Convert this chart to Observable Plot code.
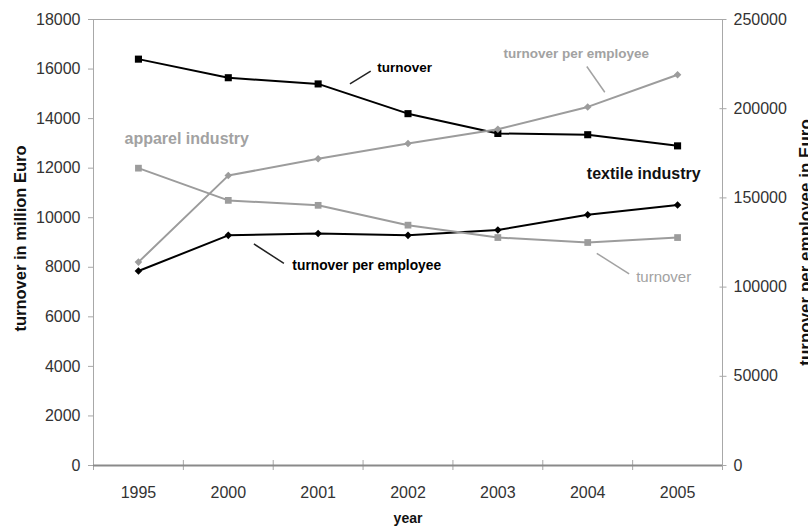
<!DOCTYPE html>
<html>
<head>
<meta charset="utf-8">
<script src="https://cdn.jsdelivr.net/npm/d3@7"></script>
<script src="https://cdn.jsdelivr.net/npm/@observablehq/plot@0.6"></script>
<style>
  body { margin: 0; background: #fff; }
  #chart { width: 808px; height: 526px; overflow: hidden; }
</style>
</head>
<body>
<div id="chart"></div>
<script>
// Years shown on the category axis
const years = ["1995", "2000", "2001", "2002", "2003", "2004", "2005"];

// Turnover in million Euro (left axis)
const textileTurnover = [16400, 15650, 15400, 14200, 13400, 13350, 12900];
const apparelTurnover = [12000, 10700, 10500, 9700, 9200, 9000, 9200];

// Turnover per employee in Euro (right axis)
const textilePerEmployee = [109000, 129000, 130000, 129000, 132000, 140500, 146000];
const apparelPerEmployee = [114000, 162500, 172000, 180500, 188500, 201000, 219000];

// Axis ticks
const leftTicks = [0, 2000, 4000, 6000, 8000, 10000, 12000, 14000, 16000, 18000];
const rightTicks = [0, 50000, 100000, 150000, 200000, 250000];

const leftMax = 18000;
const rightMax = 250000;
const k = leftMax / rightMax; // right-axis values expressed in left-axis units

const BLACK = "#000";
const GREY = "#9c9c9c";
const AXIS = "#a8a8a8";
const TEXT = "#333";

const rows = (values, scale) => values.map((v, i) => ({i, year: years[i], value: v, y: v * scale}));

const tTurn = rows(textileTurnover, 1);
const aTurn = rows(apparelTurnover, 1);
const tEmp = rows(textilePerEmployee, k);
const aEmp = rows(apparelPerEmployee, k);

const note = (label, x, y, opts) =>
  Plot.text([label], {x: () => x, y: () => y, text: d => d, textAnchor: "start", lineAnchor: "bottom", fontWeight: "bold", ...opts});
const leader = (x1, y1, x2, y2, stroke) =>
  Plot.link([0], {x1: () => x1, y1: () => y1, x2: () => x2, y2: () => y2, stroke, strokeWidth: 1.5});

const chart = Plot.plot({
  width: 808,
  height: 526,
  marginLeft: 93,
  marginRight: 86,
  marginTop: 19,
  marginBottom: 61,
  style: {fontFamily: "'Liberation Sans', Arial, sans-serif", background: "#fff"},
  x: {type: "linear", domain: [-0.5, years.length - 0.5]},
  y: {domain: [0, leftMax]},
  marks: [
    Plot.frame({stroke: AXIS}),

    // left axis
    Plot.axisY(leftTicks, {anchor: "left", tickSize: 5, fill: "none", stroke: AXIS, label: null}),
    Plot.axisY(leftTicks, {anchor: "left", tickSize: 0, tickPadding: 13, fill: TEXT, fontSize: 16,
      tickFormat: d => String(d), label: null}),

    // right axis (per-employee scale)
    Plot.axisY(rightTicks.map(v => v * k), {anchor: "right", tickSize: 7, dx: -3.5, fill: "none", stroke: AXIS, label: null}),
    Plot.axisY(rightTicks.map(v => v * k), {anchor: "right", tickSize: 0, tickPadding: 11, fill: TEXT, fontSize: 16,
      tickFormat: d => String(Math.round(d / k)), label: null}),

    // category axis: boundary ticks and year labels
    Plot.axisX(d3.range(years.length + 1).map(i => i - 0.5), {tickSize: 10, dy: -5, fill: "none", stroke: AXIS, label: null}),
    Plot.axisX(d3.range(years.length), {tickSize: 0, tickPadding: 21, fill: TEXT, fontSize: 16,
      tickFormat: i => years[i], label: null}),
    Plot.ruleY([0], {stroke: "#8a8a8a", strokeWidth: 2}),

    // axis titles
    Plot.text(["year"], {frameAnchor: "bottom", dy: 57, lineAnchor: "bottom", fontWeight: "bold", fontSize: 14, fill: "#111"}),
    Plot.text(["turnover in million Euro"], {frameAnchor: "left", dx: -68, dy: -4, rotate: -90, textAnchor: "middle",
      lineAnchor: "bottom", fontWeight: "bold", fontSize: 16.5, fill: "#111"}),
    Plot.text(["turnover per employee in Euro"], {frameAnchor: "right", dx: 88, rotate: -90, textAnchor: "middle",
      lineAnchor: "bottom", fontWeight: "bold", fontSize: 17, fill: "#111"}),

    // textile industry
    Plot.line(tTurn, {x: "i", y: "y", stroke: BLACK, strokeWidth: 2}),
    Plot.dot(tTurn, {x: "i", y: "y", symbol: "square", r: 4, fill: BLACK}),
    Plot.line(tEmp, {x: "i", y: "y", stroke: BLACK, strokeWidth: 2}),
    Plot.dot(tEmp, {x: "i", y: "y", symbol: "diamond2", r: 3.4, fill: BLACK}),

    // apparel industry
    Plot.line(aTurn, {x: "i", y: "y", stroke: GREY, strokeWidth: 2}),
    Plot.dot(aTurn, {x: "i", y: "y", symbol: "square", r: 3.8, fill: GREY}),
    Plot.line(aEmp, {x: "i", y: "y", stroke: GREY, strokeWidth: 2}),
    Plot.dot(aEmp, {x: "i", y: "y", symbol: "diamond2", r: 3.4, fill: GREY}),

    // series labels and leaders
    note("turnover", 2.659, 15872, {fill: BLACK, fontSize: 13.5}),
    leader(2.354, 15404, 2.585, 15913, "#222"),
    note("turnover per employee", 4.062, 16466, {fill: "#a2a2a2", fontSize: 13.5}),
    leader(4.99, 16103, 5.19, 15065, "#a2a2a2"),
    note("apparel industry", -0.155, 12993, {fill: "#a2a2a2", fontSize: 16}),
    note("textile industry", 4.99, 11580, {fill: "#111", fontSize: 16}),
    note("turnover per employee", 1.713, 7890, {fill: BLACK, fontSize: 13.8}),
    leader(1.285, 8942, 1.619, 8158, "#222"),
    note("turnover", 5.539, 7419, {fill: "#a2a2a2", fontSize: 15, fontWeight: "normal"}),
    leader(5.101, 8562, 5.461, 7730, "#a2a2a2")
  ]
});

document.getElementById("chart").append(chart);
</script>
</body>
</html>
